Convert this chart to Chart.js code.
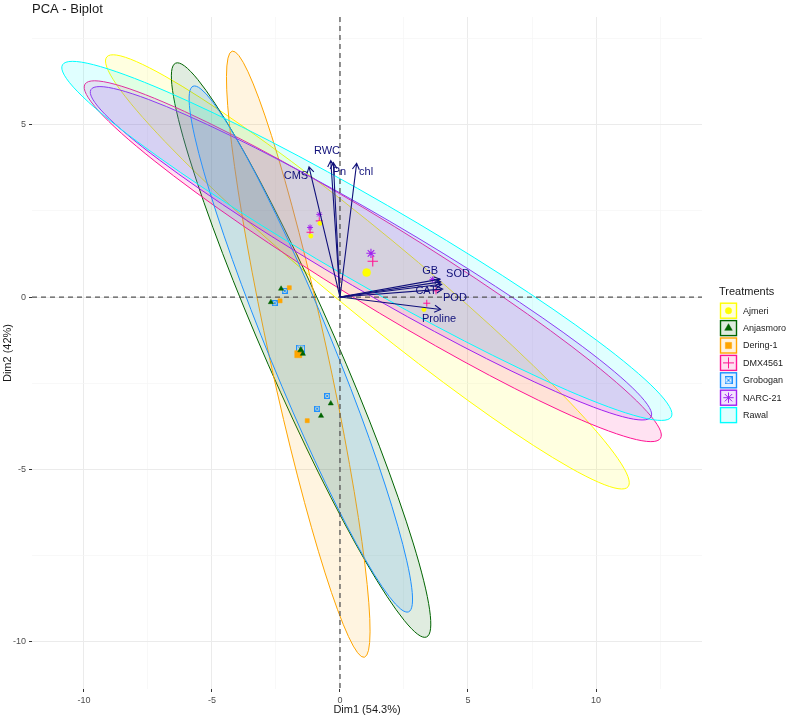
<!DOCTYPE html>
<html>
<head>
<meta charset="utf-8">
<title>PCA - Biplot</title>
<script src="https://cdn.jsdelivr.net/npm/chart.js@4.4.1/dist/chart.umd.min.js"></script>
<style>
html, body { margin: 0; padding: 0; background: #fff; }
#wrap { width: 787px; height: 718px; }
</style>
</head>
<body>
<div id="wrap"><canvas id="biplot"></canvas></div>
<script>
const treatments = ['Ajmeri', 'Anjasmoro', 'Dering-1', 'DMX4561', 'Grobogan', 'NARC-21', 'Rawal'];
const colors = ['#FFFF00', '#006400', '#FFA500', '#FF1493', '#1E90FF', '#A020F0', '#00FFFF'];

// individual scores (Dim1 / Dim2) per treatment, Rawal has no symbol
const indX = [
    [-0.78, -1.14, 3.28],
    [-2.30, -2.70, -0.36, -0.74, -1.45],
    [-1.98, -2.34, -1.28],
    [-0.81, -1.17, 3.75, 3.39],
    [-2.16, -2.55, -0.50, -0.89],
    [-0.81, -1.17, 3.61],
    []
];
const indY = [
    [2.14, 1.77, -0.36],
    [0.24, -0.15, -3.09, -3.45, -1.65],
    [0.27, -0.11, -3.59],
    [2.21, 1.88, 0.18, -0.18],
    [0.18, -0.18, -2.87, -3.24],
    [2.40, 2.02, 0.51],
    []
];
// group means
const meanX = [1.04, -1.53, -1.63, 1.28, -1.54, 1.21, null];
const meanY = [0.71, -1.54, -1.66, 1.04, -1.51, 1.27, null];

// confidence ellipses: centre, major semi-axis, minor semi-axis (data units)
const ellCx = [1.07, -1.52, -1.63, 1.28, -1.53, 1.21, 1.05];
const ellCy = [0.73, -1.54, -1.66, 1.04, -1.51, 1.27, 1.63];
const ellUx = [10.18, 4.90, 2.58, 11.24, 4.21, 10.94, 11.89];
const ellUy = [-6.24, -8.33, -8.80, -5.14, -7.63, -4.75, -5.11];
const ellVx = [-1.00, -1.29, -1.10, -0.84, -1.15, -0.73, -0.80];
const ellVy = [-0.89, -0.41, -0.18, -1.01, -0.35, -0.93, -1.03];

// variable loadings (arrows) and their label positions
const varNames = ['CMS', 'RWC', 'Pn', 'chl', 'GB', 'SOD', 'CAT', 'POD', 'Proline'];
const varX = [-1.21, -0.36, -0.26, 0.65, 3.91, 3.93, 3.97, 4.01, 3.93];
const varY = [3.78, 3.96, 3.90, 3.88, 0.52, 0.44, 0.37, 0.23, -0.36];
const labX = [-1.72, -0.51, -0.02, 1.02, 3.52, 4.61, 3.36, 4.49, 3.87];
const labY = [3.51, 4.24, 3.63, 3.63, 0.75, 0.67, 0.17, -0.03, -0.64];

const xTicks = [-10, -7.5, -5, -2.5, 0, 2.5, 5, 7.5, 10, 12.5];
const yTicks = [-10, -7.5, -5, -2.5, 0, 2.5, 5, 7.5];
const xMin = -12.03, xMax = 14.14, yMin = -11.38, yMax = 8.13;

const FONT = "'Liberation Sans', Arial, sans-serif";
const ARROW = '#10107a';

function fade(hex, a) {
    const n = parseInt(hex.slice(1), 16);
    return 'rgba(' + (n >> 16) + ',' + ((n >> 8) & 255) + ',' + (n & 255) + ',' + a + ')';
}

// open square with an x inside (ggplot shape 7)
function squareCross(size, col) {
    const c = document.createElement('canvas');
    c.width = size; c.height = size;
    const g = c.getContext('2d');
    g.strokeStyle = col;
    g.lineWidth = 1;
    g.strokeRect(0.5, 0.5, size - 1, size - 1);
    g.beginPath();
    g.moveTo(1.5, 1.5); g.lineTo(size - 1.5, size - 1.5);
    g.moveTo(size - 1.5, 1.5); g.lineTo(1.5, size - 1.5);
    g.stroke();
    return c;
}

const smallStyle = ['circle', 'triangle', 'rect', 'cross', squareCross(6, colors[4]), 'star', false];
const bigStyle = ['circle', 'triangle', 'rect', 'cross', squareCross(9, colors[4]), 'star', false];
const smallRad = [2.2, 3, 2.9, 3.5, 3, 3, 0];
const bigRad = [4, 3.6, 5, 5.2, 4.5, 4.6, 0];
const lineShape = i => (i === 3 || i === 5);

const datasets = [];
treatments.forEach((t, i) => {
    if (!indX[i].length) return;
    datasets.push({
        label: t,
        data: indX[i].map((v, k) => ({x: v, y: indY[i][k]})),
        pointStyle: smallStyle[i],
        pointRadius: smallRad[i],
        backgroundColor: colors[i],
        borderColor: colors[i],
        borderWidth: lineShape(i) ? 1 : 0.5,
        showLine: false
    });
});
treatments.forEach((t, i) => {
    if (meanX[i] === null) return;
    datasets.push({
        label: t + ' mean',
        data: [{x: meanX[i], y: meanY[i]}],
        pointStyle: bigStyle[i],
        pointRadius: bigRad[i],
        backgroundColor: colors[i],
        borderColor: colors[i],
        borderWidth: lineShape(i) ? 1.1 : 0.5,
        showLine: false
    });
});

const ellipsePlugin = {
    id: 'ellipses',
    beforeDatasetsDraw(chart) {
        const {ctx, chartArea, scales: {x, y}} = chart;
        ctx.save();
        ctx.beginPath();
        ctx.rect(chartArea.left, chartArea.top, chartArea.width, chartArea.height);
        ctx.clip();
        treatments.forEach((t, i) => {
            const cx = x.getPixelForValue(ellCx[i]);
            const cy = y.getPixelForValue(ellCy[i]);
            const ux = x.getPixelForValue(ellCx[i] + ellUx[i]) - cx;
            const uy = y.getPixelForValue(ellCy[i] + ellUy[i]) - cy;
            const vx = x.getPixelForValue(ellCx[i] + ellVx[i]) - cx;
            const vy = y.getPixelForValue(ellCy[i] + ellVy[i]) - cy;
            ctx.save();
            ctx.transform(ux, uy, vx, vy, cx, cy);
            ctx.beginPath();
            ctx.arc(0, 0, 1, 0, Math.PI * 2);
            ctx.closePath();
            ctx.restore();
            ctx.fillStyle = fade(colors[i], 0.12);
            ctx.fill();
            ctx.strokeStyle = colors[i];
            ctx.lineWidth = 1;
            ctx.stroke();
        });
        // dashed reference lines through the origin
        const x0 = x.getPixelForValue(0), y0 = y.getPixelForValue(0);
        ctx.strokeStyle = '#555555';
        ctx.lineWidth = 1.3;
        ctx.setLineDash([5, 4]);
        ctx.beginPath();
        ctx.moveTo(chartArea.left, y0); ctx.lineTo(chartArea.right, y0);
        ctx.moveTo(x0, chartArea.top); ctx.lineTo(x0, chartArea.bottom);
        ctx.stroke();
        ctx.restore();
    }
};

const arrowPlugin = {
    id: 'arrows',
    afterDatasetsDraw(chart) {
        const {ctx, scales: {x, y}} = chart;
        const x0 = x.getPixelForValue(0), y0 = y.getPixelForValue(0);
        ctx.save();
        ctx.strokeStyle = ARROW;
        ctx.lineWidth = 1.1;
        varNames.forEach((n, i) => {
            const tx = x.getPixelForValue(varX[i]);
            const ty = y.getPixelForValue(varY[i]);
            const ang = Math.atan2(ty - y0, tx - x0);
            const head = 7;
            ctx.beginPath();
            ctx.moveTo(x0, y0); ctx.lineTo(tx, ty);
            ctx.moveTo(tx - head * Math.cos(ang - Math.PI / 6), ty - head * Math.sin(ang - Math.PI / 6));
            ctx.lineTo(tx, ty);
            ctx.lineTo(tx - head * Math.cos(ang + Math.PI / 6), ty - head * Math.sin(ang + Math.PI / 6));
            ctx.stroke();
        });
        ctx.fillStyle = ARROW;
        ctx.font = '11px ' + FONT;
        ctx.textAlign = 'center';
        ctx.textBaseline = 'middle';
        varNames.forEach((n, i) => {
            ctx.fillText(n, x.getPixelForValue(labX[i]), y.getPixelForValue(labY[i]));
        });
        ctx.restore();
    }
};

const keyRad = [3.2, 4.4, 4.4, 5.5, 4, 5.2];

const decorPlugin = {
    id: 'decor',
    afterDraw(chart) {
        const ctx = chart.ctx;
        ctx.save();
        ctx.fillStyle = '#1a1a1a';
        ctx.font = '13px ' + FONT;
        ctx.textAlign = 'left';
        ctx.textBaseline = 'middle';
        ctx.fillText('PCA - Biplot', 32, 9);

        // legend
        ctx.font = '11px ' + FONT;
        ctx.fillText('Treatments', 719, 292);
        treatments.forEach((t, i) => {
            const cy = 310.7 + i * 17.4;
            ctx.fillStyle = fade(colors[i], 0.13);
            ctx.fillRect(720, cy - 8, 17, 16);
            ctx.strokeStyle = colors[i];
            ctx.lineWidth = 1.4;
            ctx.strokeRect(720.5, cy - 7.5, 16, 15);
            if (smallStyle[i]) {
                ctx.fillStyle = colors[i];
                ctx.strokeStyle = colors[i];
                ctx.lineWidth = lineShape(i) ? 1 : 0.5;
                Chart.helpers.drawPoint(ctx, {
                    pointStyle: i === 4 ? squareCross(8, colors[4]) : smallStyle[i],
                    radius: keyRad[i],
                    rotation: 0,
                    borderWidth: ctx.lineWidth
                }, 728.5, cy);
            }
            ctx.fillStyle = '#1a1a1a';
            ctx.font = '9px ' + FONT;
            ctx.fillText(t, 743, cy + 0.5);
        });
        ctx.restore();
    }
};

const isMajor = c => c.tick && Math.abs(c.tick.value % 5) < 1e-9;

new Chart(document.getElementById('biplot'), {
    type: 'scatter',
    data: {datasets: datasets},
    options: {
        responsive: true,
        maintainAspectRatio: false,
        animation: false,
        events: [],
        layout: {padding: {left: 0, right: 85, top: 17, bottom: 0}},
        plugins: {
            legend: {display: false},
            tooltip: {enabled: false}
        },
        scales: {
            x: {
                type: 'linear',
                min: xMin,
                max: xMax,
                afterBuildTicks: s => { s.ticks = xTicks.map(v => ({value: v})); },
                afterFit: s => { s.height = 29; },
                ticks: {
                    autoSkip: false,
                    maxRotation: 0,
                    padding: 3,
                    color: '#4d4d4d',
                    font: {size: 9, family: FONT},
                    callback: v => (Math.abs(v % 5) < 1e-9 ? String(v) : '')
                },
                grid: {
                    color: c => isMajor(c) ? '#EBEBEB' : '#F5F5F5',
                    lineWidth: c => isMajor(c) ? 1 : 0.7,
                    tickColor: c => isMajor(c) ? '#333333' : 'rgba(0,0,0,0)',
                    tickWidth: 1,
                    tickLength: 3
                },
                border: {display: false},
                title: {
                    display: true,
                    text: 'Dim1 (54.3%)',
                    color: '#1a1a1a',
                    font: {size: 11, family: FONT},
                    padding: {top: 0, bottom: 1}
                }
            },
            y: {
                type: 'linear',
                min: yMin,
                max: yMax,
                afterBuildTicks: s => { s.ticks = yTicks.map(v => ({value: v})); },
                afterFit: s => { s.width = 32; },
                ticks: {
                    autoSkip: false,
                    padding: 3,
                    color: '#4d4d4d',
                    font: {size: 9, family: FONT},
                    callback: v => (Math.abs(v % 5) < 1e-9 ? String(v) : '')
                },
                grid: {
                    color: c => isMajor(c) ? '#EBEBEB' : '#F5F5F5',
                    lineWidth: c => isMajor(c) ? 1 : 0.7,
                    tickColor: c => isMajor(c) ? '#333333' : 'rgba(0,0,0,0)',
                    tickWidth: 1,
                    tickLength: 3
                },
                border: {display: false},
                title: {
                    display: true,
                    text: 'Dim2 (42%)',
                    color: '#1a1a1a',
                    font: {size: 11, family: FONT},
                    padding: {top: 1, bottom: 0}
                }
            }
        }
    },
    plugins: [ellipsePlugin, arrowPlugin, decorPlugin]
});
</script>
</body>
</html>
